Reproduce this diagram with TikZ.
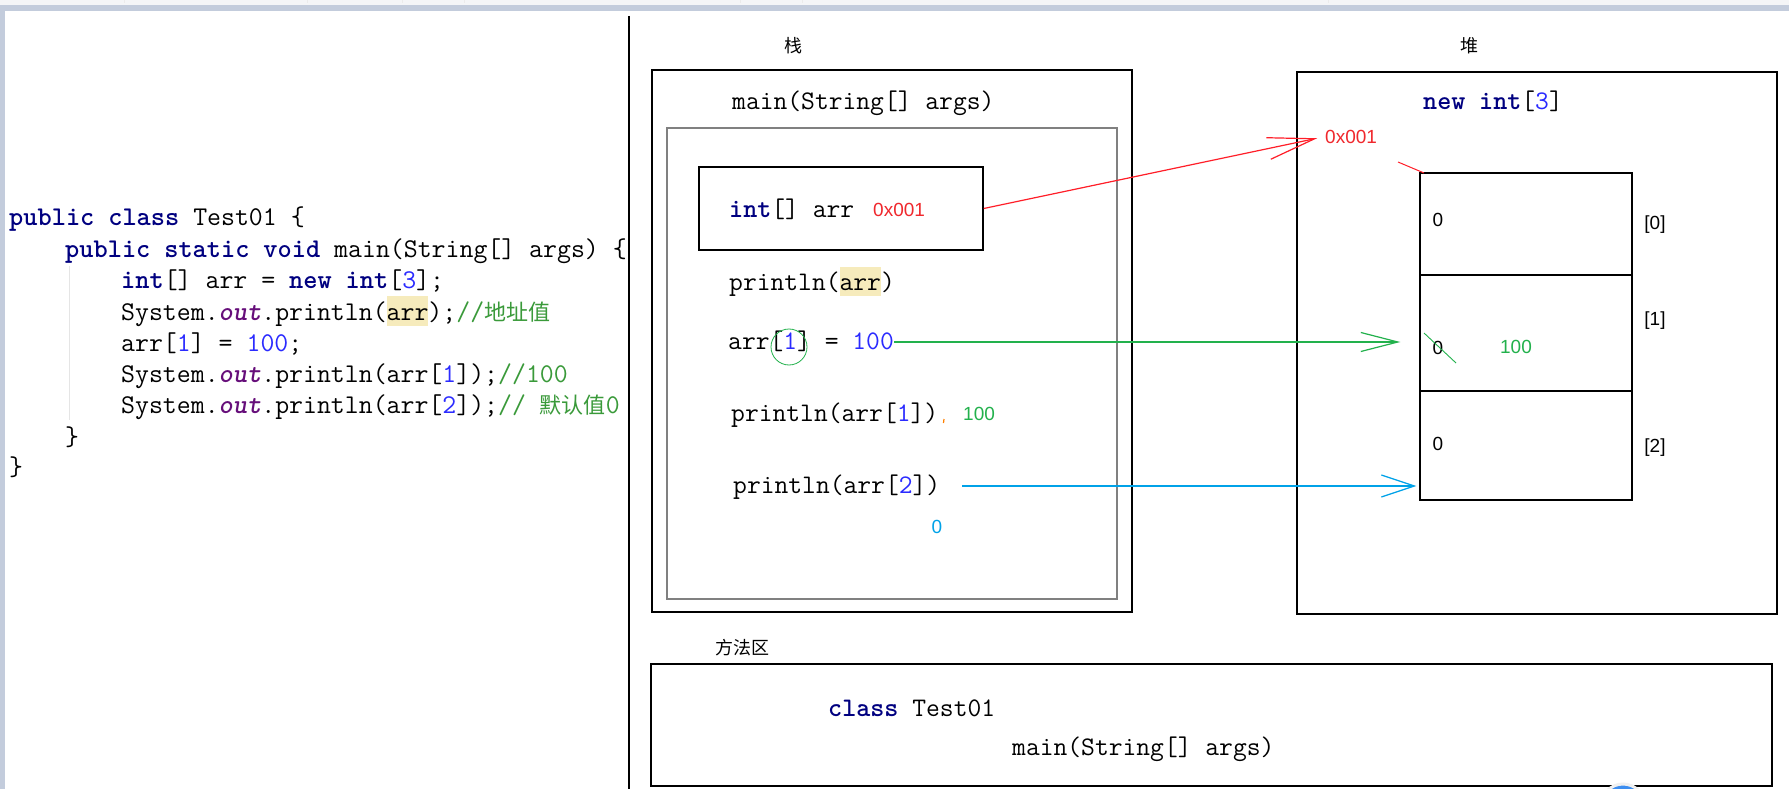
\documentclass[tikz,border=0pt]{standalone}
\usepackage{fontspec}
\usepackage{xcolor}
\usepackage{tikz}
\usetikzlibrary{arrows.meta,positioning}

\newfontfamily\cjk{Noto Sans CJK SC}
\newfontfamily\lsans{Liberation Sans}

\definecolor{kwnavy}{HTML}{000080}
\definecolor{numblue}{HTML}{2B2BFF}
\definecolor{outpurple}{HTML}{660E7A}
\definecolor{cmtgreen}{HTML}{3A9A3A}
\definecolor{hlyellow}{HTML}{F6EBBC}
\definecolor{addrred}{HTML}{F0282D}
\definecolor{lnred}{HTML}{FF1E28}
\definecolor{lngreen}{HTML}{22B14C}
\definecolor{lncyan}{HTML}{00A2E8}
\definecolor{barblue}{HTML}{C3CCDC}
\definecolor{bargray}{HTML}{F4F5F7}
\definecolor{framegray}{HTML}{808080}
\definecolor{fabblue}{HTML}{3D8EF0}

\newcommand{\codefont}{\ttfamily\fontsize{27.05}{32}\selectfont}
\newcommand{\memfont}{\ttfamily\fontsize{26.8}{31}\selectfont}
\newcommand{\kw}[1]{\textcolor{kwnavy}{\bfseries #1}}
\newcommand{\numlit}[1]{\textcolor{numblue}{#1}}
\newcommand{\outfld}{\textcolor{outpurple}{\bfseries\itshape out}}
\newcommand{\cmt}[1]{\textcolor{cmtgreen}{#1}}
\newcommand{\zh}[1]{{\cjk\fontsize{22}{26}\selectfont #1}}
\newcommand{\hlt}[1]{{\setlength{\fboxsep}{0pt}\colorbox{hlyellow}{\rule[-0.23em]{0pt}{1.1em}#1}}}

\begin{document}
\begin{tikzpicture}[x=1pt, y=-1pt,
  code/.style={font=\codefont, inner sep=0pt, anchor=west, text height=20pt, text depth=6pt},
  mem/.style={font=\memfont, inner sep=0pt, anchor=west, text height=20pt, text depth=6pt},
  box/.style={rectangle, draw, line width=1.5pt, inner sep=0pt},
  area/.style={font=\cjk\fontsize{18}{22}\selectfont, inner sep=0pt},
  val/.style={font=\lsans\fontsize{19}{23}\selectfont, inner sep=0pt},
  refarr/.style={draw=lnred, line width=1.2pt, -{Straight Barb[length=47pt, width=22pt]}},
  setarr/.style={draw=lngreen, line width=1.2pt, -{Straight Barb[length=37pt, width=19pt]}},
  getarr/.style={draw=lncyan, line width=1.2pt, -{Straight Barb[length=33pt, width=22pt]}},
]
  \useasboundingbox (0,0) rectangle (1789,789);
  \fill[white] (0,0) rectangle (1789,789);
  % editor frame
  \fill[bargray] (0,0) rectangle (1789,5);
  \fill[barblue] (0,5) rectangle (1789,11);
  \fill[barblue] (0,11) rectangle (5,789);
  \foreach \tx in {124,307,402,464,740,802,1328}
    \draw[black!8, line width=0.8pt] (\tx,0) -- (\tx,3);
  \draw[line width=1.5pt] (629,16) -- (629,789);
  \draw[black!10, line width=1pt] (69,266) -- (69,420);

  % source code
  \node[code] (src1) at (9,218) {\kw{public} \kw{class} Test01 \{};
  \node[code] (src2) at (65,250) {\kw{public} \kw{static} \kw{void} main(String[] args) \{};
  \node[code] (src3) at (121,281) {\kw{int}[] arr = \kw{new} \kw{int}[\numlit{3}];};
  \node[code] (src4) at (121,313) {System.\outfld.println(\hlt{arr});\cmt{//\zh{地址值}}};
  \node[code] (src5) at (121,344) {arr[\numlit{1}] = \numlit{100};};
  \node[code] (src6) at (121,375) {System.\outfld.println(arr[\numlit{1}]);\cmt{//100}};
  \node[code] (src7) at (121,406) {System.\outfld.println(arr[\numlit{2}]);\cmt{// \zh{默认值}0}};
  \node[code] (src8) at (65,438) {\}};
  \node[code] (src9) at (9,468) {\}};

  % stack
  \node[area] (stacktitle) at (793,46) {栈};
  \node[box, minimum width=480pt, minimum height=542pt] (stackbox) at (892,341) {};
  \node[mem] (framename) at (732,103) {main(String[] args)};
  \node[box, draw=framegray, minimum width=450pt, minimum height=471pt] (mainframe) at (892,363.5) {};
  \node[box, minimum width=284pt, minimum height=83pt] (arrvar) at (841,208.5) {};
  \node[mem] (arrdecl) at (729,210) {\kw{int}[] arr};
  \node[val, anchor=west, text=addrred] (arrref) at (873,210) {0x001};
  \node[mem] (printref) at (729,283) {println(\hlt{arr})};
  \node[mem] (assign) at (728,342) {arr[\numlit{1}] = \numlit{100}};
  \node[circle, draw=lngreen, line width=0.8pt, minimum size=36pt, inner sep=0pt] (idxring) at (789,347) {};
  \node[mem] (print1) at (731,414) {println(arr[\numlit{1}])};
  \draw[orange, line width=1.2pt] (944,419) -- (943.5,423);
  \node[val, anchor=west, text=lngreen] (print1out) at (963,414) {100};
  \node[mem] (print2) at (733,486) {println(arr[\numlit{2}])};
  \node[val, text=lncyan] (print2out) at (937,527) {0};

  % heap
  \node[area] (heaptitle) at (1469,46) {堆};
  \node[box, minimum width=480pt, minimum height=542pt] (heapbox) at (1537,343) {};
  \node[mem] (newarr) at (1423,103) {\kw{new} \kw{int}[\numlit{3}]};
  \node[val, anchor=west, text=addrred, inner sep=2pt] (heapaddr) at (1323,137) {0x001};
  \node[box, minimum width=212pt, minimum height=102pt] (cell0) at (1526,224) {};
  \node[box, minimum width=212pt, minimum height=116pt] (cell1) at (1526,333) {};
  \node[box, minimum width=212pt, minimum height=109pt] (cell2) at (1526,445.5) {};
  \node[val] (val0) at (1438,220) {0};
  \node[val] (val1) at (1438,348) {0};
  \node[val] (val2) at (1438,444) {0};
  \node[val, text=lngreen] (val1new) at (1516,347) {100};
  \node[val] (idx0) at (1655,225) {[0]};
  \node[val] (idx1) at (1655,321) {[1]};
  \node[val] (idx2) at (1655,448) {[2]};
  \draw[lnred, line width=1pt] (1398,162) -- (1424,173);
  \draw[lngreen, line width=0.9pt] (1424,333) -- (1456,363);

  % method area
  \node[area] (methodtitle) at (742,648) {方法区};
  \node[box, minimum width=1121pt, minimum height=122pt] (methodbox) at (1211.5,725) {};
  \node[mem] (classname) at (828,709) {\kw{class} Test01};
  \node[mem] (methodname) at (1012,748) {main(String[] args)};

  % references
  \draw[refarr, shorten >=6pt] (arrvar.east) -- (heapaddr.west);
  \draw[setarr, shorten >=19pt] (assign.east) -- (assign.east -| cell1.west);
  \draw[getarr, shorten <=22pt, shorten >=3pt] (print2.east) -- (print2.east -| cell2.west);

  \begin{scope}
    \clip (0,0) rectangle (1789,789);
    \fill[fabblue, draw=black!6, line width=3pt] (1623,806) circle (22pt);
  \end{scope}
\end{tikzpicture}
\end{document}
